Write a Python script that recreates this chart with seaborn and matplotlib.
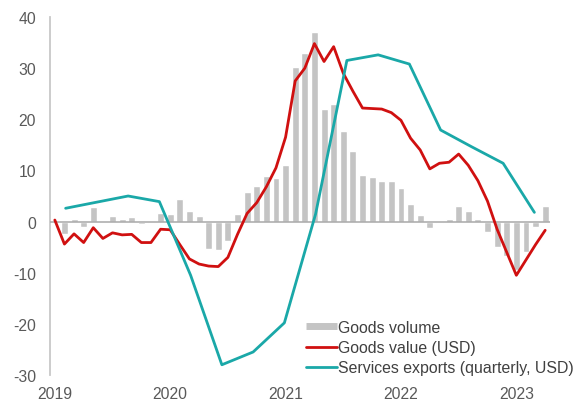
import numpy as np
import pandas as pd
import matplotlib
matplotlib.use("Agg")
import matplotlib.pyplot as plt
from matplotlib.lines import Line2D
import seaborn as sns

# ---------------------------------------------------------
# data, % y/y
# ---------------------------------------------------------
year_labels = ["2019", "2020", "2021", "2022", "2023"]

# monthly, Jan 2019 .. Apr 2023
goods_volume = [
    0.0, -2.5, 0.5, -1.0, 2.8, 0.0, 1.0, 0.5, 0.8, -0.4, -0.3, 1.7,
    1.5, 4.5, 2.0, 1.1, -5.3, -5.5, -3.8, 1.5, 5.7, 7.0, 8.9, 8.5,
    11.0, 30.3, 33.0, 37.0, 22.0, 23.0, 17.8, 13.8, 9.1, 8.7, 7.9, 7.9,
    6.5, 3.4, 1.2, -1.2, -0.2, 0.6, 3.0, 2.0, 0.6, -2.0, -5.0, -6.8,
    -9.5, -6.0, -1.0, 3.0,
]
goods_value = [
    0.3, -4.4, -2.4, -4.1, -1.2, -3.3, -2.2, -2.6, -2.5, -4.1, -4.1, -1.5,
    -1.6, -4.5, -7.3, -8.3, -8.7, -8.8, -7.0, -2.5, 1.6, 3.7, 6.8, 10.5,
    16.5, 27.5, 30.0, 34.8, 31.3, 34.2, 29.0, 25.5, 22.2, 22.1, 22.0, 21.3,
    19.8, 16.3, 14.0, 10.3, 11.4, 11.6, 13.2, 11.0, 8.0, 4.0, -1.5, -6.0,
    -10.5, -7.5, -4.5, -1.7,
]

# quarterly, on its own (secondary) category axis
services = [2.6, 3.8, 5.0, 3.9, -10.5, -28.0, -25.5, -19.8,
            1.5, 31.5, 32.6, 30.8, 17.9, 14.6, 11.4, 1.8]

monthly = pd.DataFrame({
    "month": np.arange(len(goods_volume)),
    "volume": goods_volume,
    "value": goods_value,
})
quarterly = pd.DataFrame({"quarter": np.arange(len(services)), "services": services})

# ---------------------------------------------------------
# style
# ---------------------------------------------------------
sns.set_style("white")
plt.rcParams["font.family"] = ["Liberation Sans", "DejaVu Sans"]
plt.rcParams["axes.unicode_minus"] = False

GREY_BAR = "#C4C4C4"
RED = "#D01010"
TEAL = "#1AA8A8"
TICK_COL = "#595959"

W, H = 577, 402
fig = plt.figure(figsize=(W / 100, H / 100), dpi=100)
ax = fig.add_axes([50 / W, 1 - 376 / H, 500 / W, 358 / H])

# ---------------------------------------------------------
# bars + goods value line (monthly axis)
# ---------------------------------------------------------
sns.barplot(data=monthly, x="month", y="volume", native_scale=True,
            color=GREY_BAR, saturation=1, width=0.72, ax=ax, zorder=2)
ax.axhline(0, color="#A8A8A8", lw=1.1, zorder=3)
sns.lineplot(data=monthly, x="month", y="value", color=RED, lw=2.0,
             ax=ax, zorder=4)

ax.set_xlim(-0.5, len(goods_volume) - 0.5)
ax.set_ylim(-30, 40)
ax.set_yticks(range(-30, 41, 10))
ax.set_xticks(range(0, len(goods_volume), 12))
ax.set_xticklabels(year_labels)
ax.set_xlabel("")
ax.set_ylabel("")
ax.tick_params(axis="both", length=0, labelsize=11.3, colors=TICK_COL)
ax.tick_params(axis="y", pad=10)
ax.tick_params(axis="x", pad=8)

for side in ["top", "right", "bottom"]:
    ax.spines[side].set_visible(False)
ax.spines["left"].set_color("#C8C8C8")
ax.spines["left"].set_linewidth(1.3)

# ---------------------------------------------------------
# services exports (quarterly, secondary x axis)
# ---------------------------------------------------------
ax2 = ax.twiny()
sns.lineplot(data=quarterly, x="quarter", y="services", color=TEAL, lw=2.0,
             ax=ax2, zorder=5)
ax2.set_xlim(-0.5, len(services) - 0.5)
ax2.set_xticks([])
ax2.set_xlabel("")
for side in ax2.spines:
    ax2.spines[side].set_visible(False)

# ---------------------------------------------------------
# legend
# ---------------------------------------------------------
handles = [
    Line2D([], [], color=GREY_BAR, lw=5, solid_capstyle="butt"),
    Line2D([], [], color=RED, lw=2.0),
    Line2D([], [], color=TEAL, lw=2.0),
]
labels = ["Goods volume", "Goods value (USD)", "Services exports (quarterly, USD)"]
ax2.legend(handles, labels, loc="upper left",
           bbox_to_anchor=(306 / W, 1 - 321 / H), bbox_transform=fig.transFigure,
           frameon=False, fontsize=11.4, handlelength=1.95, handletextpad=0.1,
           labelspacing=0.32, borderpad=0, borderaxespad=0,
           labelcolor="#404040")

fig.savefig("out.png", dpi=100)
plt.close(fig)
